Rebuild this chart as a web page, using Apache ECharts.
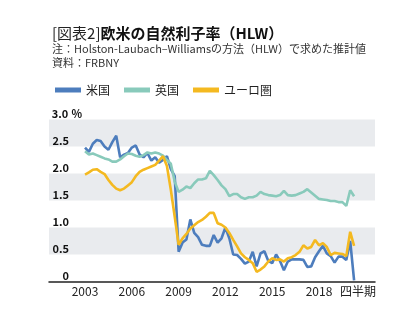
<!DOCTYPE html>
<html>
<head>
<meta charset="utf-8">
<script src="https://cdn.jsdelivr.net/npm/echarts@6/dist/echarts.min.js"></script>
<style>
  html, body { margin: 0; padding: 0; background: #fff; }
  #chart { width: 420px; height: 324px; }
</style>
</head>
<body>
<div id="chart"></div>
<script>
// Natural rate of interest (HLW estimates), quarterly from 2003 Q1 to 2020 Q2
const startYear = 2003;
const seriesNames = ['米国', '英国', 'ユーロ圏'];

const usRate = [
  2.48, 2.40, 2.55, 2.62, 2.60, 2.50, 2.44, 2.58, 2.70, 2.30,
  2.35, 2.38, 2.48, 2.52, 2.35, 2.30, 2.38, 2.24, 2.30, 2.20,
  2.25, 2.32, 2.08, 1.95, 0.55, 0.72, 0.78, 1.15, 0.90, 0.82,
  0.68, 0.66, 0.66, 0.86, 0.72, 0.80, 1.00, 0.80, 0.50, 0.49,
  0.42, 0.33, 0.37, 0.55, 0.28, 0.52, 0.56, 0.38, 0.34, 0.50,
  0.38, 0.21, 0.37, 0.41, 0.41, 0.41, 0.40, 0.27, 0.28, 0.45,
  0.56, 0.66, 0.52, 0.47, 0.35, 0.46, 0.46, 0.40, 0.75, 0.02
];

const ukRate = [
  2.41, 2.35, 2.37, 2.34, 2.31, 2.28, 2.26, 2.22, 2.22, 2.26,
  2.32, 2.37, 2.36, 2.33, 2.31, 2.34, 2.39, 2.37, 2.39, 2.37,
  2.33, 2.25, 2.18, 1.85, 1.66, 1.70, 1.76, 1.73, 1.82, 1.89,
  1.89, 1.91, 2.05, 1.97, 1.88, 1.78, 1.71, 1.58, 1.62, 1.62,
  1.56, 1.53, 1.56, 1.56, 1.59, 1.66, 1.62, 1.60, 1.59, 1.58,
  1.60, 1.68, 1.60, 1.59, 1.60, 1.63, 1.66, 1.71, 1.65, 1.59,
  1.53, 1.52, 1.51, 1.49, 1.49, 1.47, 1.47, 1.40, 1.69, 1.58
];

const euRate = [
  1.98, 2.02, 2.07, 2.08, 2.03, 1.99, 1.88, 1.79, 1.72, 1.69,
  1.72, 1.78, 1.84, 1.95, 2.03, 2.07, 2.10, 2.13, 2.16, 2.24,
  2.32, 2.14, 1.70, 1.20, 0.68, 0.80, 0.88, 0.98, 1.04, 1.10,
  1.14, 1.20, 1.27, 1.27, 1.08, 1.05, 1.00, 0.90, 0.77, 0.65,
  0.52, 0.45, 0.40, 0.34, 0.18, 0.22, 0.28, 0.37, 0.43, 0.40,
  0.41, 0.37, 0.43, 0.45, 0.49, 0.55, 0.67, 0.61, 0.64, 0.77,
  0.67, 0.71, 0.64, 0.49, 0.53, 0.52, 0.51, 0.47, 0.92, 0.66
];

// x-axis tick labels (first quarter of each year) and the unit label
const xTickValues = [2003, 2006, 2009, 2012, 2015, 2018];
const xTickLabels = ['2003', '2006', '2009', '2012', '2015', '2018'];
const xUnitLabel = '四半期';
const xUnitValue = 2020.5;

// y-axis tick labels
const yTickValues = [0, 0.5, 1, 1.5, 2, 2.5, 3];
const yTickLabels = ['0', '0.5', '1.0', '1.5', '2.0', '2.5', '3.0'];
const yUnit = '%';

const colors = ['#4d7dbd', '#89cabb', '#f4b920'];
const FONT = '"Noto Sans CJK JP", "Noto Sans", sans-serif';

function toPoints(values) {
  return values.map((v, i) => [startYear + i / 4, v]);
}

const chart = echarts.init(document.getElementById('chart'), null, { renderer: 'canvas' });

chart.setOption({
  animation: false,
  backgroundColor: '#fff',
  textStyle: { fontFamily: FONT },
  title: {
    left: 47,
    top: 21,
    text: '{a|[図表2]}{b|欧米の自然利子率（HLW）}',
    textStyle: {
      rich: {
        a: { fontFamily: FONT, fontSize: 15, fontWeight: 'normal', color: '#222' },
        b: { fontFamily: FONT, fontSize: 15, fontWeight: 'bold', color: '#111' }
      }
    },
    subtext: '注：Holston-Laubach–Williamsの方法（HLW）で求めた推計値\n資料：FRBNY',
    subtextStyle: { fontFamily: FONT, fontSize: 11, lineHeight: 14, color: '#333' },
    itemGap: 1
  },
  legend: {
    left: 50,
    top: 79,
    icon: 'rect',
    itemWidth: 26,
    itemHeight: 5,
    itemGap: 14,
    textStyle: { fontFamily: FONT, fontSize: 12, color: '#222' },
    data: seriesNames
  },
  grid: { left: 49, right: 45, top: 119.5, bottom: 42.5, containLabel: false },
  xAxis: {
    type: 'value',
    min: 2000.69,
    max: 2021.59,
    axisLine: { show: true, lineStyle: { color: '#222', width: 1.5 } },
    axisTick: { show: false },
    splitLine: { show: false },
    axisLabel: {
      customValues: xTickValues.concat([xUnitValue]),
      margin: 4,
      fontFamily: FONT,
      fontSize: 12,
      color: '#222',
      formatter: function (v) {
        if (Math.abs(v - xUnitValue) < 0.01) return xUnitLabel;
        const k = xTickValues.findIndex(t => Math.abs(t - v) < 0.01);
        return k >= 0 ? xTickLabels[k] : '';
      }
    }
  },
  yAxis: {
    type: 'value',
    min: 0,
    max: 3,
    interval: 0.5,
    axisLine: { show: false },
    axisTick: { show: false },
    splitLine: { show: false },
    splitArea: { show: true, areaStyle: { color: ['rgba(255,255,255,0)', '#e9ebee'] } },
    axisLabel: {
      inside: true,
      margin: 2,
      align: 'left',
      verticalAlign: 'bottom',
      formatter: function (v) {
        const k = yTickValues.findIndex(t => Math.abs(t - v) < 1e-6);
        const txt = k >= 0 ? yTickLabels[k] : '';
        return k === yTickValues.length - 1 ? '{v|' + txt + '}{u| ' + yUnit + '}' : '{v|' + txt + '}';
      },
      rich: {
        v: { width: 18, align: 'right', fontFamily: FONT, fontSize: 11, fontWeight: 'bold', color: '#111' },
        u: { fontFamily: FONT, fontSize: 11, fontWeight: 'bold', color: '#111' }
      }
    }
  },
  series: [
    { name: seriesNames[0], type: 'line', data: toPoints(usRate), color: colors[0], symbol: 'none', lineStyle: { width: 2.6, color: colors[0] }, z: 2 },
    { name: seriesNames[1], type: 'line', data: toPoints(ukRate), color: colors[1], symbol: 'none', lineStyle: { width: 2.6, color: colors[1] }, z: 3 },
    { name: seriesNames[2], type: 'line', data: toPoints(euRate), color: colors[2], symbol: 'none', lineStyle: { width: 2.6, color: colors[2] }, z: 4 }
  ]
});
</script>
</body>
</html>
